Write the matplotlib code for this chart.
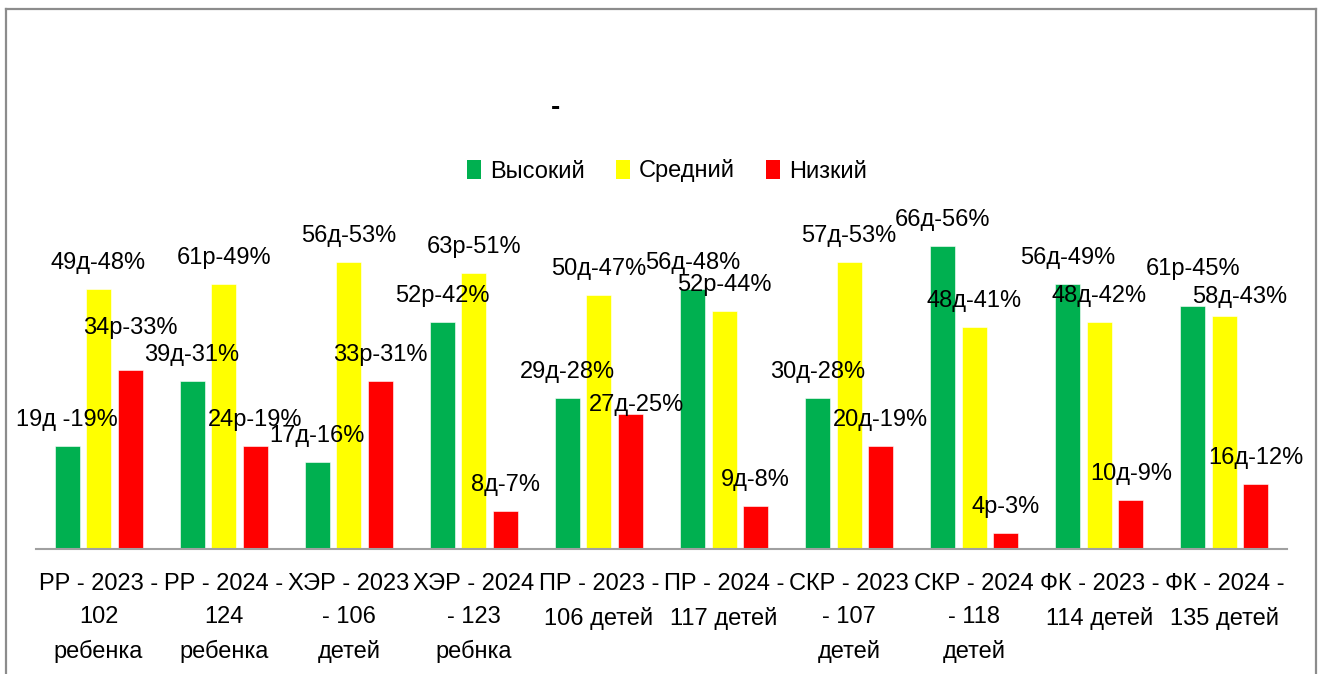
import matplotlib
matplotlib.use("Agg")
import matplotlib.pyplot as plt
from matplotlib.lines import Line2D
from matplotlib.patches import Patch

# ---- data ----
categories = [
    "РР - 2023 -\n102\nребенка",
    "РР - 2024 -\n124\nребенка",
    "ХЭР - 2023\n- 106\nдетей",
    "ХЭР - 2024\n- 123\nребнка",
    "ПР - 2023 -\n106 детей",
    "ПР - 2024 -\n117 детей",
    "СКР - 2023\n- 107\nдетей",
    "СКР - 2024\n- 118\nдетей",
    "ФК - 2023 -\n114 детей",
    "ФК - 2024 -\n135 детей",
]
series_names = ["Высокий", "Средний", "Низкий"]
high = [19, 31, 16, 42, 28, 48, 28, 56, 49, 45]
mid = [48, 49, 53, 51, 47, 44, 53, 41, 42, 43]
low = [33, 19, 31, 7, 25, 8, 19, 3, 9, 12]
high_labels = ["19д -19%", "39д-31%", "17д-16%", "52р-42%", "29д-28%",
               "56д-48%", "30д-28%", "66д-56%", "56д-49%", "61р-45%"]
mid_labels = ["49д-48%", "61р-49%", "56д-53%", "63р-51%", "50д-47%",
              "52р-44%", "57д-53%", "48д-41%", "48д-42%", "58д-43%"]
low_labels = ["34р-33%", "24р-19%", "33р-31%", "8д-7%", "27д-25%",
              "9д-8%", "20д-19%", "4р-3%", "10д-9%", "16д-12%"]
title = "-"

# ---- styling ----
colors = ["#00B050", "#FFFF00", "#FF0000"]
FONT = "Liberation Sans"
W, H, DPI = 1324, 674, 100
# label offsets (pixels) for manually moved data labels; default (0, 26)
label_offsets = {
    (2, 0): (0, 42),   # RR 2023 low
    (2, 4): (6, 9),    # PR 2023 low
    (0, 9): (0, 37),   # FK 2024 high
    (1, 9): (15, 19),  # FK 2024 mid
}

fig = plt.figure(figsize=(W / DPI, H / DPI), dpi=DPI)
fig.patch.set_facecolor("white")

# outer chart frame
frame_kw = dict(color="#8c8c8c", linewidth=1.6, transform=fig.transFigure)
def fx(px): return px / W
def fy(py): return 1 - py / H
fig.add_artist(Line2D([fx(6), fx(6)], [fy(9), fy(700)], **frame_kw))
fig.add_artist(Line2D([fx(6), fx(1316)], [fy(9), fy(9)], **frame_kw))
fig.add_artist(Line2D([fx(1316), fx(1316)], [fy(9), fy(700)], **frame_kw))

ymax = 65
scale = 5.41
ax_left, ax_right, ax_base = 36, 1287, 549
ax_h = ymax * scale
ax = fig.add_axes([fx(ax_left), fy(ax_base), (ax_right - ax_left) / W, ax_h / H])
ax.set_xlim(-0.5, len(categories) - 0.5)
ax.set_ylim(0, ymax)
for s in ["top", "right", "left"]:
    ax.spines[s].set_visible(False)
ax.spines["bottom"].set_color("#a0a0a0")
ax.spines["bottom"].set_linewidth(1.5)
ax.set_yticks([])

x = list(range(len(categories)))
offs = [-0.252, 0.0, 0.252]
all_vals = [high, mid, low]
all_labels = [high_labels, mid_labels, low_labels]
for si, (vals, labs) in enumerate(zip(all_vals, all_labels)):
    xs = [xi + offs[si] for xi in x]
    ax.bar(xs, vals, width=0.2, color=colors[si], edgecolor="white",
           linewidth=0.4, label=series_names[si], zorder=2)
    for gi, (xx, v, t) in enumerate(zip(xs, vals, labs)):
        dx, dy = label_offsets.get((si, gi), (0, 26))
        ax.annotate(t, (xx, v), xytext=(dx, dy), textcoords="offset pixels",
                    ha="center", va="center", fontsize=17, family=FONT,
                    color="black", zorder=5, annotation_clip=False)

ax.set_xticks(x)
ax.set_xticklabels(categories, fontsize=17, family=FONT, linespacing=1.65,
                   va="top")
ax.tick_params(axis="x", length=0, pad=17.5)

# title
fig.text(fx(556), fy(108), title, ha="center", va="center",
         fontsize=20, fontweight="bold", family=FONT)

# legend
handles = [Patch(facecolor=c, edgecolor="none") for c in colors]
fig.legend(handles, series_names, loc="center", bbox_to_anchor=(fx(667), fy(171)),
           ncol=3, frameon=False, prop={"family": FONT, "size": 17},
           handlelength=0.6, handleheight=0.85, handletextpad=0.4,
           columnspacing=1.3)

fig.savefig("out.png", dpi=DPI, facecolor="white")
